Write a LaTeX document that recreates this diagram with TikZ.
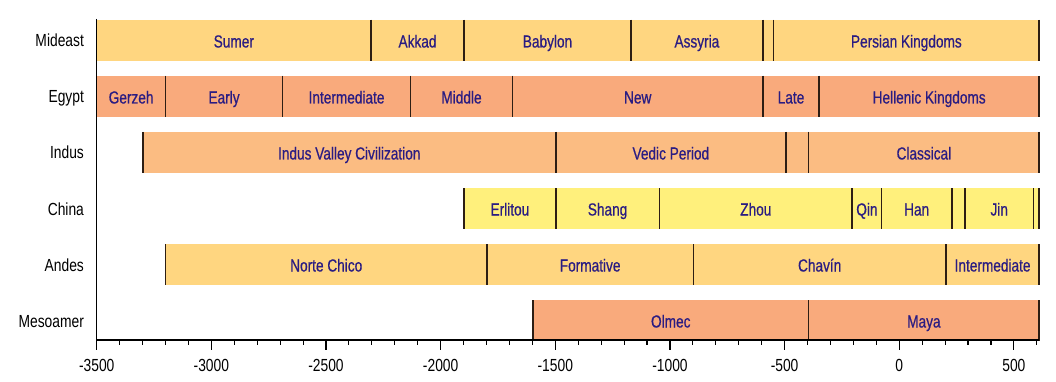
\documentclass[tikz,border=0pt]{standalone}
\usepackage{fontspec}
\setmainfont{Liberation Sans}[FakeStretch=0.79]
\newfontfamily\barfont{Liberation Sans}[FakeStretch=0.78,FakeBold=0.6]
\definecolor{cmid}{HTML}{FFD680}
\definecolor{cegy}{HTML}{F9AA7C}
\definecolor{cind}{HTML}{FBBC82}
\definecolor{cchi}{HTML}{FFF07C}
\definecolor{cand}{HTML}{FFD680}
\definecolor{cmes}{HTML}{F9AA7C}
\definecolor{labblue}{RGB}{42,28,130}
\definecolor{divcol}{RGB}{45,30,20}
\pgfdeclarelayer{bg}
\pgfsetlayers{bg,main}
\tikzset{
  bartext/.style={text=labblue, font=\barfont\fontsize{17.5}{18}\selectfont, inner sep=0pt, anchor=base},
  rowlabel/.style={text=black, font=\fontsize{17.5}{18}\selectfont, inner sep=0pt, anchor=base east},
  ticklabel/.style={text=black, font=\fontsize{17.5}{18}\selectfont, inner sep=0pt, anchor=base},
  divider/.style={draw=divcol, line width=1.5pt},
  axisline/.style={draw=black, line width=1.3pt},
}
% #1 name, #2 start, #3 end, #4 top, #5 colour, #6 label
\newcommand\tlseg[6]{%
  \begin{pgfonlayer}{bg}\fill[#5] (#2,#4) rectangle (#3,{#4+41});\end{pgfonlayer}
  \draw[divider] (#2,#4) -- (#2,{#4+41});
  \draw[divider] (#3,#4) -- (#3,{#4+41});
  \node[bartext] (#1) at ({(#2+#3)/2},{#4+27.5}) {#6};
}
\begin{document}
\begin{tikzpicture}[x=0.2293pt,y=-1pt]
\path[use as bounding box] (-899.25pt,0pt) rectangle (156.75pt,-382pt);
% row labels
\node[rowlabel] (lmid) at (-3555,47) {Mideast};
\node[rowlabel] (legy) at (-3555,103) {Egypt};
\node[rowlabel] (lind) at (-3555,159) {Indus};
\node[rowlabel] (lchi) at (-3555,215) {China};
\node[rowlabel] (land) at (-3555,271) {Andes};
\node[rowlabel] (lmes) at (-3555,327) {Mesoamer};
% Mideast
\tlseg{sumer}{-3500}{-2304}{20}{cmid}{Sumer}
\tlseg{akkad}{-2304}{-1898}{20}{cmid}{Akkad}
\tlseg{babylon}{-1898}{-1170}{20}{cmid}{Babylon}
\tlseg{assyria}{-1170}{-595}{20}{cmid}{Assyria}
\tlseg{mgap}{-595}{-548}{20}{cmid}{}
\tlseg{persian}{-548}{610}{20}{cmid}{Persian Kingdoms}
% Egypt
\tlseg{gerzeh}{-3500}{-3200}{76}{cegy}{Gerzeh}
\tlseg{early}{-3200}{-2689}{76}{cegy}{Early}
\tlseg{einter}{-2689}{-2132}{76}{cegy}{Intermediate}
\tlseg{middle}{-2132}{-1686}{76}{cegy}{Middle}
\tlseg{new}{-1686}{-595}{76}{cegy}{New}
\tlseg{late}{-595}{-349}{76}{cegy}{Late}
\tlseg{hellenic}{-349}{610}{76}{cegy}{Hellenic Kingdoms}
% Indus
\tlseg{ivc}{-3299}{-1498}{132}{cind}{Indus Valley Civilization}
\tlseg{vedic}{-1498}{-494}{132}{cind}{Vedic Period}
\tlseg{igap}{-494}{-395}{132}{cind}{}
\tlseg{classical}{-395}{610}{132}{cind}{Classical}
% China
\tlseg{erlitou}{-1898}{-1498}{188}{cchi}{Erlitou}
\tlseg{shang}{-1498}{-1046}{188}{cchi}{Shang}
\tlseg{zhou}{-1046}{-205}{188}{cchi}{Zhou}
\tlseg{qin}{-205}{-77}{188}{cchi}{Qin}
\tlseg{han}{-77}{229}{188}{cchi}{Han}
\tlseg{cgap}{229}{287}{188}{cchi}{}
\tlseg{jin}{287}{585}{188}{cchi}{Jin}
\tlseg{cgap2}{585}{610}{188}{cchi}{}
% Andes
\tlseg{norte}{-3200}{-1798}{244}{cand}{Norte Chico}
\tlseg{formative}{-1798}{-898}{244}{cand}{Formative}
\tlseg{chavin}{-898}{204}{244}{cand}{Chavín}
\tlseg{ainter}{204}{610}{244}{cand}{Intermediate}
% Mesoamerica
\tlseg{olmec}{-1598}{-395}{300}{cmes}{Olmec}
\tlseg{maya}{-395}{610}{300}{cmes}{Maya}
% axes
\coordinate (ytop) at (-3500,19);
\coordinate (orig) at (-3500,340);
\coordinate (xend) at (610,340);
\draw[axisline] (ytop) -- (orig) -- (xend);
\foreach \t in {-3400,-3300,...,600} \draw[line width=1.1pt] (\t,340) -- (\t,345);
\foreach \t [count=\i] in {-3500,-3000,...,500} {
  \draw[line width=1.1pt] (\t,340) -- (\t,350);
  \node[ticklabel] (tick\i) at (\t,371) {\t};
}
\end{tikzpicture}
\end{document}
